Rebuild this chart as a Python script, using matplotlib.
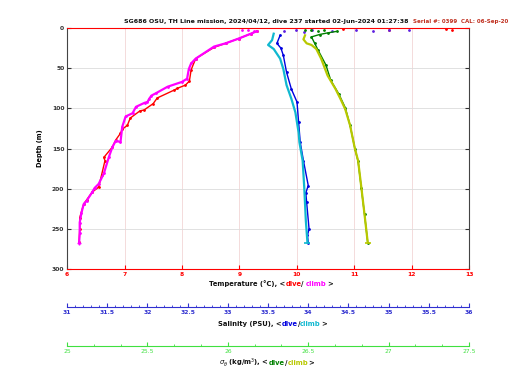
import matplotlib
matplotlib.use("Agg")
import matplotlib.pyplot as plt
from matplotlib.ticker import MultipleLocator

# temperature (deg C) vs depth (m)
temp_dive_t = [9.30, 9.20, 8.99, 8.76, 8.56, 8.24, 8.16, 8.13, 8.06, 7.92, 7.87, 7.57, 7.50,
               7.34, 7.27, 7.10, 7.05, 6.96, 6.93, 6.85, 6.79, 6.64, 6.66, 6.60, 6.55,
               6.44, 6.34, 6.29, 6.22, 6.22, 6.21]
temp_dive_d = [4, 7, 13, 19, 24, 38, 52, 66, 71, 75, 77, 87, 94,
               102, 103, 112, 121, 126, 131, 139, 148, 161, 165, 183, 198,
               204, 214, 219, 236, 250, 266]
temp_climb_t = [9.30, 9.20, 8.99, 8.76, 8.56, 8.24, 8.16, 8.12, 8.09, 8.00, 7.75, 7.55, 7.47,
                7.43, 7.40, 7.35, 7.20, 7.14, 7.02, 6.96, 6.93, 6.85, 6.79, 6.73, 6.64,
                6.55, 6.48, 6.44, 6.34, 6.29, 6.25, 6.22, 6.22, 6.21]
temp_climb_d = [4, 7, 13, 19, 23, 38, 44, 51, 63, 67, 73, 81, 84,
                88, 92, 93, 98, 106, 110, 123, 142, 140, 148, 160, 181,
                194, 199, 204, 215, 219, 230, 242, 255, 267]
temp_surf_t = [9.05, 9.15, 9.25, 10.8, 11.6, 12.6, 12.7]
temp_surf_d = [3, 2, 4, 1, 2, 1, 2]

# salinity (PSU)
sal_dive_s = [33.65, 33.61, 33.66, 33.69, 33.73, 33.79, 33.86, 33.88, 33.90, 33.94,
              34.00, 33.97, 33.98, 34.01, 33.99, 34.00]
sal_dive_d = [9, 19, 25, 34, 55, 76, 92, 117, 142, 165,
              196, 205, 217, 250, 258, 267]
sal_climb_s = [33.57, 33.55, 33.50, 33.57, 33.65, 33.69, 33.73, 33.79, 33.84, 33.88,
               33.89, 33.93, 33.95, 33.97, 33.99]
sal_climb_d = [7, 15, 21, 26, 38, 51, 71, 88, 105, 130,
               142, 165, 198, 240, 267]
sal_surf_s = [33.70, 33.85, 33.95, 34.05, 34.3, 34.6, 34.8, 35.0, 35.25]
sal_surf_d = [4, 3, 5, 2, 4, 3, 4, 3, 2]

# sigma-theta (kg/m^3)
sig_dive_g = [26.68, 26.62, 26.57, 26.52, 26.54, 26.56, 26.61, 26.64, 26.69, 26.73,
              26.76, 26.79, 26.81, 26.83, 26.85, 26.87]
sig_dive_d = [4, 6, 8, 11, 19, 27, 46, 65, 82, 99,
              121, 150, 166, 199, 232, 267]
sig_climb_g = [26.48, 26.47, 26.49, 26.52, 26.55, 26.58, 26.62, 26.67, 26.70, 26.73,
               26.76, 26.79, 26.81, 26.83, 26.85, 26.87]
sig_climb_d = [9, 14, 19, 21, 26, 38, 59, 76, 88, 101,
               121, 150, 165, 198, 232, 267]
sig_surf_g = [26.48, 26.52, 26.56, 26.60]
sig_surf_d = [3, 2, 4, 2]

temp_ticks = [6, 7, 8, 9, 10, 11, 12, 13]
sal_ticks = [31, 31.5, 32, 32.5, 33, 33.5, 34, 34.5, 35, 35.5, 36]
sig_ticks = [25, 25.5, 26, 26.5, 27, 27.5]
depth_ticks = [0, 50, 100, 150, 200, 250, 300]

red, mag = "#ff0000", "#ff00ff"
blue, cyan = "#0000e0", "#10b8d0"
green, olive = "#008000", "#b8c800"
sal_axis, sig_axis = "#3030d0", "#40e040"

fig = plt.figure(figsize=(5.2, 3.9), dpi=100)
ax = fig.add_axes([0.129, 0.310, 0.773, 0.618])
fs = 4.3

# temperature
ax.plot(temp_dive_t, temp_dive_d, color=red, lw=1.0, marker=".", ms=2)
ax.plot(temp_climb_t, temp_climb_d, color=mag, lw=1.6, marker=".", ms=2)
ax.plot(temp_surf_t[:3], temp_surf_d[:3], ".", color=mag, ms=2)
ax.plot(temp_surf_t[3:], temp_surf_d[3:], ".", color=red, ms=2)
ax.set_xlim(6, 13)
ax.set_ylim(300, 0)
ax.set_xticks(temp_ticks)
ax.set_yticks(depth_ticks)
ax.grid(True, axis="x", color="#f2d6d6", lw=0.6)
ax.grid(True, axis="y", color="#dcdcdc", lw=0.6)
ax.tick_params(axis="x", colors=red, labelsize=fs, direction="in", length=3,
               top=True, pad=2)
ax.tick_params(axis="y", colors="#333333", labelsize=fs, direction="in", length=3,
               right=True, pad=2)
for lab in ax.get_xticklabels() + ax.get_yticklabels():
    lab.set_fontweight("bold")
ax.spines["bottom"].set_color(red)
ax.spines["top"].set_color(red)
ax.spines["left"].set_color("#444444")
ax.spines["right"].set_color("#444444")
for s in ax.spines.values():
    s.set_linewidth(0.8)
ax.set_ylabel("Depth (m)", fontsize=fs + 0.5, fontweight="bold", labelpad=6)

# salinity axis
ax2 = ax.twiny()
ax2.plot(sal_dive_s, sal_dive_d, color=blue, lw=1.0, marker=".", ms=2)
ax2.plot(sal_climb_s, sal_climb_d, color=cyan, lw=1.6)
ax2.plot(sal_surf_s, sal_surf_d, ".", color="#6020e0", ms=2)
ax2.set_xlim(31, 36)
ax2.set_xticks(sal_ticks)
ax2.set_xticklabels([f"{v:g}" for v in sal_ticks])
ax2.xaxis.set_minor_locator(MultipleLocator(0.1))
ax2.xaxis.set_ticks_position("bottom")
ax2.spines["bottom"].set_position(("axes", -0.158))
for k in ("top", "left", "right"):
    ax2.spines[k].set_visible(False)
ax2.spines["bottom"].set_color(sal_axis)
ax2.spines["bottom"].set_linewidth(0.8)
ax2.tick_params(axis="x", which="both", colors=sal_axis, labelsize=fs,
                direction="in", length=3, pad=2)
ax2.tick_params(axis="x", which="minor", length=1.5)
for lab in ax2.get_xticklabels():
    lab.set_fontweight("bold")

# sigma axis
ax3 = ax.twiny()
ax3.plot(sig_dive_g, sig_dive_d, color=green, lw=1.0, marker=".", ms=2)
ax3.plot(sig_climb_g, sig_climb_d, color=olive, lw=1.6)
ax3.plot(sig_surf_g, sig_surf_d, ".", color=green, ms=2)
ax3.set_xlim(25, 27.5)
ax3.set_xticks(sig_ticks)
ax3.set_xticklabels([f"{v:g}" for v in sig_ticks])
ax3.xaxis.set_minor_locator(MultipleLocator(0.5 / 3))
ax3.xaxis.set_ticks_position("bottom")
ax3.spines["bottom"].set_position(("axes", -0.318))
for k in ("top", "left", "right"):
    ax3.spines[k].set_visible(False)
ax3.spines["bottom"].set_color(sig_axis)
ax3.spines["bottom"].set_linewidth(0.8)
ax3.tick_params(axis="x", which="both", colors=sig_axis, labelsize=fs,
                direction="in", length=3, pad=2)
ax3.tick_params(axis="x", which="minor", length=1.5)

# bottom markers
ax.plot([temp_climb_t[-1]], [temp_climb_d[-1]], "+", color=mag, ms=3)
ax2.plot([sal_climb_s[-1]], [sal_climb_d[-1]], "_", color=cyan, ms=5, mew=1.2)
ax3.plot([sig_climb_g[-1]], [sig_climb_d[-1]], "_", color=olive, ms=5, mew=1.2)

renderer = fig.canvas.get_renderer()


def label_chain(x, y, parts):
    # one text per colour, each starting where the previous one ends, same baseline
    for txt, col in parts:
        t = fig.text(x, y, txt, color=col, fontsize=fs + 0.6, fontweight="bold",
                     ha="left", va="baseline")
        x = fig.transFigure.inverted().transform(
            (t.get_window_extent(renderer).x1, 0))[0]


label_chain(209 / 520, 1 - 286 / 390,
            [("Temperature (\u00b0C), <", "#111111"), ("dive", red), ("/ ", "#111111"),
             ("climb", mag), (">", "#111111")])
label_chain(218 / 520, 1 - 326 / 390,
            [("Salinity (PSU), <", "#111111"), ("dive", blue), ("/", "#111111"),
             ("climb", cyan), (">", "#111111")])
label_chain(219 / 520, 1 - 365 / 390,
            [(r"$\sigma_\theta$ (kg/m$^3$), <", "#111111"), ("dive", green), ("/", "#111111"),
             ("climb", olive), (">", "#111111")])

fig.text(124 / 520, 1 - 23 / 390,
         "SG686 OSU, TH Line mission, 2024/04/12, dive 237 started 02-Jun-2024 01:27:38",
         ha="left", va="baseline", fontsize=fs + 0.2, fontweight="bold", color="#111111")
fig.text(413 / 520, 1 - 23 / 390, "Serial #: 0399  CAL: 06-Sep-20",
         ha="left", va="baseline", fontsize=fs - 0.3, fontweight="bold", color="#c03020")

fig.savefig("out.png", dpi=100)
